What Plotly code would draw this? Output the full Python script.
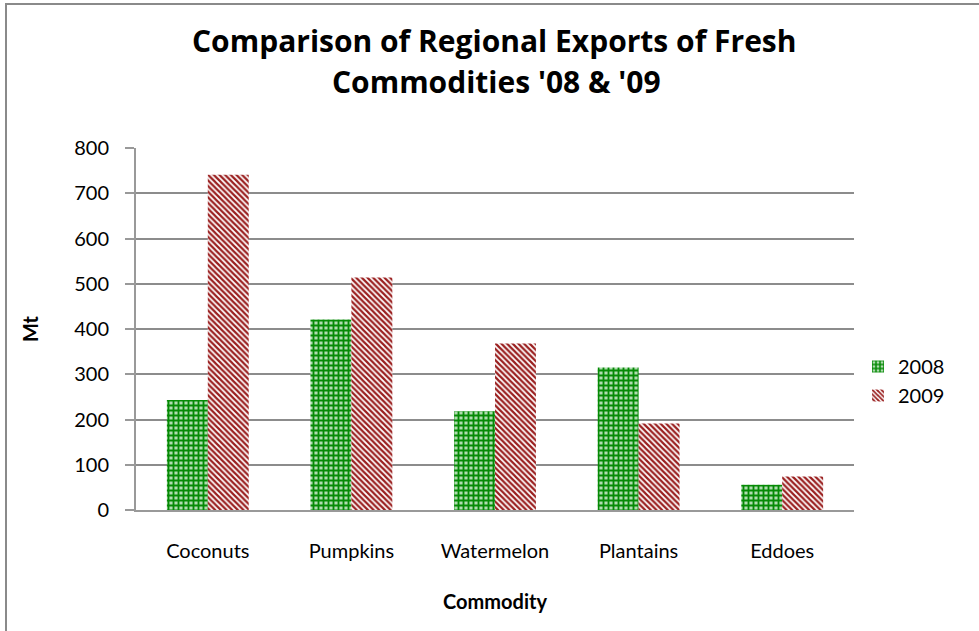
import plotly.graph_objects as go

commodities = ["Coconuts", "Pumpkins", "Watermelon", "Plantains", "Eddoes"]
exports_2008 = [243, 421, 218, 315, 56]
exports_2009 = [741, 514, 368, 191, 74]
y_ticks = [0, 100, 200, 300, 400, 500, 600, 700, 800]

font_family = "Lato, Carlito, sans-serif"
plot_left, plot_right = 136, 854
plot_top, plot_bottom = 148, 510   # pixel rows of the plot area
plot_w = plot_right - plot_left
plot_h = plot_bottom - plot_top


def paper_x(px):
    return (px - plot_left) / plot_w


def paper_y(px):
    # screen row -> paper fraction
    return (plot_bottom - px) / plot_h


fig = go.Figure()
fig.add_trace(go.Bar(
    x=commodities, y=exports_2008, name="2008",
    marker=dict(color="white", line=dict(width=0),
                pattern=dict(shape="+", fgcolor="#058a05", bgcolor="#b0dcb0",
                             fgopacity=1, size=5, solidity=0.6)),
))
fig.add_trace(go.Bar(
    x=commodities, y=exports_2009, name="2009",
    marker=dict(color="white", line=dict(width=0),
                pattern=dict(shape="\\", fgcolor="#9a1f1f", bgcolor="white",
                             fgopacity=1, size=4, solidity=0.55)),
))

title_font = dict(family="Open Sans, sans-serif", size=30, color="black")
fig.update_layout(
    width=979, height=631,
    paper_bgcolor="white", plot_bgcolor="white",
    barmode="group", bargap=0.43, bargroupgap=0,
    margin=dict(l=plot_left, r=979 - plot_right, t=plot_top, b=631 - plot_bottom),
    font=dict(family=font_family, size=20, color="black"),
    showlegend=True,
    legend=dict(x=paper_x(858), y=paper_y(381), yanchor="middle", xanchor="left",
                font=dict(size=20), traceorder="normal", itemwidth=30),
    annotations=[
        dict(text="<b>Comparison of Regional Exports of Fresh</b>", xref="paper",
             yref="paper", x=paper_x(494), y=paper_y(40), showarrow=False,
             xanchor="center", yanchor="middle", font=title_font),
        dict(text="<b>Commodities '08 & '09</b>", xref="paper",
             yref="paper", x=paper_x(496), y=paper_y(82), showarrow=False,
             xanchor="center", yanchor="middle", font=title_font),
    ],
    shapes=[
        dict(type="path", xref="paper", yref="paper",
             path="M %f,%f L %f,%f L %f,%f" % (
                 paper_x(6), paper_y(640), paper_x(6), paper_y(4),
                 paper_x(990), paper_y(4)),
             line=dict(color="#8a8a8a", width=2)),
    ],
)

fig.update_xaxes(
    showline=True, linecolor="#999999", linewidth=2,
    ticks="", tickfont=dict(size=20), ticklabelstandoff=22,
    title=dict(text="<b>Commodity</b>", font=dict(size=20), standoff=34),
)
fig.update_yaxes(
    range=[0, 800], tickvals=y_ticks, showgrid=True,
    gridcolor="#8c8c8c", gridwidth=2, zeroline=False,
    showline=True, linecolor="#999999", linewidth=2,
    ticks="outside", ticklen=9, tickcolor="#999999", tickwidth=2,
    tickfont=dict(size=20), ticklabelstandoff=12,
    title=dict(text="<b>Mt</b>", font=dict(size=20), standoff=30),
)

fig.write_html("out.html", config={"displayModeBar": False},
               post_script="document.body.style.margin='0';")
